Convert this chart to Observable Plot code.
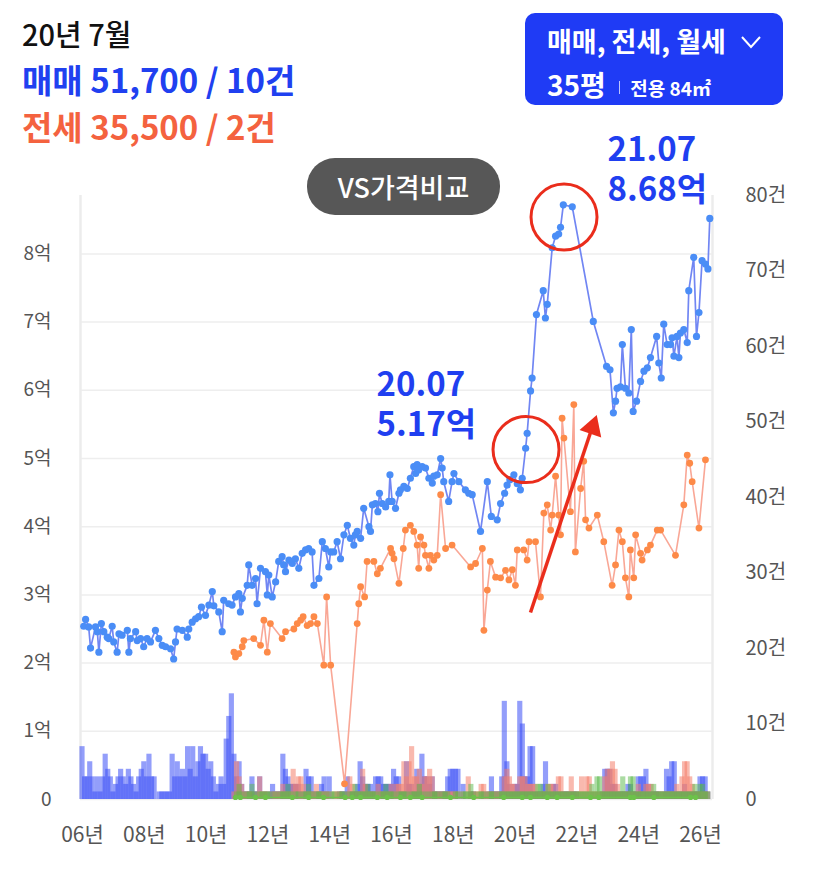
<!DOCTYPE html>
<html><head><meta charset="utf-8">
<script src="https://cdn.jsdelivr.net/npm/d3@7"></script>
<script src="https://cdn.jsdelivr.net/npm/@observablehq/plot@0.6"></script>
<style>
body{margin:0;background:#fff;font-family:"Noto Sans CJK KR","Noto Sans",sans-serif;}
#wrap{position:relative;width:827px;height:871px;overflow:hidden;background:#fff;}
#chart{position:absolute;left:0;top:0;}
.hd{position:absolute;left:22px;white-space:nowrap;line-height:1;}
#t1{top:19px;font-size:29px;font-weight:500;color:#111;}
#t2{top:63px;font-size:33px;font-weight:700;color:#2040f0;}
#t3{top:110px;font-size:33px;font-weight:700;color:#f4623f;}
#btn{position:absolute;left:525px;top:13px;width:258px;height:92px;background:#1f3bf5;border-radius:10px;color:#fff;}
#b1{position:absolute;left:22px;top:14px;font-size:27px;font-weight:700;line-height:1;white-space:nowrap;}
#b2{position:absolute;left:22px;top:57px;font-size:28px;font-weight:700;line-height:1;white-space:nowrap;}
#b2 .sep{display:inline-block;width:1.5px;height:13px;background:rgba(255,255,255,0.7);margin:0 10px 0 13px;vertical-align:2px;}
#b2 .sm{font-size:19px;}
#chev{position:absolute;left:215px;top:22px;}
#vs{position:absolute;left:307px;top:158px;width:193px;height:57px;background:#575757;border-radius:28px;color:#fff;font-size:27px;font-weight:500;line-height:57px;text-align:center;}
</style></head><body>
<div id="wrap">
  <div id="chart"></div>
  <div class="hd" id="t1">20년 7월</div>
  <div class="hd" id="t2">매매 51,700 / 10건</div>
  <div class="hd" id="t3">전세 35,500 / 2건</div>
  <div id="btn">
    <div id="b1">매매, 전세, 월세</div>
    <svg id="chev" width="22" height="14" viewBox="0 0 22 14"><polyline points="2,2 11,12 20,2" fill="none" stroke="#fff" stroke-width="2"/></svg>
    <div id="b2">35평<span class="sep"></span><span class="sm">전용 84㎡</span></div>
  </div>
  <div id="vs">VS가격비교</div>
</div>
<script>
// ---- data ----
const saleT = [2006.04,2006.10,2006.20,2006.26,2006.42,2006.48,2006.53,2006.61,2006.69,2006.80,2006.85,2006.96,2007.01,2007.12,2007.18,2007.28,2007.45,2007.50,2007.55,2007.72,2007.77,2007.88,2007.98,2008.09,2008.20,2008.36,2008.47,2008.58,2008.69,2008.85,2008.95,2009.01,2009.06,2009.23,2009.39,2009.44,2009.55,2009.66,2009.76,2009.85,2009.98,2010.09,2010.20,2010.25,2010.41,2010.52,2010.57,2010.73,2010.84,2010.95,2011.06,2011.11,2011.17,2011.33,2011.38,2011.49,2011.60,2011.65,2011.76,2011.92,2011.98,2012.03,2012.14,2012.25,2012.35,2012.46,2012.51,2012.57,2012.68,2012.79,2012.89,2013.00,2013.11,2013.22,2013.32,2013.43,2013.49,2013.65,2013.76,2013.86,2013.97,2014.03,2014.13,2014.24,2014.35,2014.46,2014.57,2014.67,2014.78,2014.83,2014.89,2015.00,2015.10,2015.27,2015.32,2015.38,2015.48,2015.56,2015.61,2015.70,2015.81,2015.91,2015.95,2016.02,2016.13,2016.24,2016.29,2016.40,2016.51,2016.61,2016.72,2016.78,2016.83,2016.88,2016.99,2017.10,2017.21,2017.32,2017.37,2017.48,2017.59,2017.64,2017.69,2017.85,2017.96,2018.02,2018.18,2018.39,2018.50,2018.61,2018.88,2019.10,2019.23,2019.42,2019.53,2019.66,2019.74,2019.83,2019.96,2020.07,2020.17,2020.23,2020.34,2020.39,2020.50,2020.55,2020.69,2020.91,2020.98,2021.04,2021.20,2021.31,2021.41,2021.47,2021.56,2021.85,2022.53,2022.96,2023.07,2023.18,2023.25,2023.30,2023.41,2023.47,2023.57,2023.68,2023.76,2023.82,2023.93,2024.06,2024.17,2024.28,2024.38,2024.58,2024.65,2024.73,2024.81,2024.92,2025.03,2025.08,2025.14,2025.24,2025.30,2025.35,2025.46,2025.57,2025.62,2025.78,2025.87,2025.95,2026.05,2026.16,2026.24,2026.30];
const saleV = [2.54,2.64,2.53,2.22,2.53,2.46,2.16,2.58,2.46,2.38,2.36,2.54,2.31,2.16,2.43,2.41,2.48,2.16,2.36,2.46,2.33,2.36,2.24,2.36,2.31,2.48,2.36,2.26,2.24,2.21,2.06,2.31,2.50,2.48,2.38,2.50,2.60,2.65,2.68,2.82,2.70,2.85,3.05,2.84,2.75,2.46,2.92,2.87,2.85,2.97,3.02,2.75,2.95,3.14,3.44,3.14,3.24,2.87,3.39,3.34,3.00,3.29,2.97,3.19,3.49,3.56,3.44,3.34,3.51,3.46,3.53,3.39,3.61,3.66,3.68,3.63,3.14,3.24,3.78,3.68,3.41,3.63,3.63,3.78,3.53,3.88,4.02,3.83,3.73,3.88,3.93,3.83,4.27,4.00,3.93,4.32,4.34,4.22,4.49,4.34,4.29,4.37,4.76,4.37,4.27,4.49,4.54,4.59,4.56,4.71,4.88,4.78,4.91,4.83,4.88,4.86,4.71,4.64,4.74,4.76,5.00,4.86,4.66,4.37,4.66,4.78,4.66,4.54,4.49,4.47,3.93,4.66,4.15,4.10,4.34,4.49,4.61,4.69,4.76,4.63,4.54,4.71,5.15,5.37,5.99,6.18,7.11,7.46,7.06,7.26,8.09,8.26,8.29,8.39,8.72,8.69,7.01,6.35,6.30,5.67,5.84,6.03,6.05,6.67,6.03,5.96,6.89,5.69,5.84,6.13,6.28,6.33,6.48,6.79,6.40,6.18,6.97,6.67,6.67,6.77,6.50,6.79,6.48,6.84,6.89,6.70,7.46,7.95,6.79,7.14,7.90,7.85,7.78,8.52];

const jeonseT = [2010.90,2010.95,2011.06,2011.17,2011.22,2011.54,2011.76,2011.87,2011.98,2012.08,2012.46,2012.57,2012.84,2012.95,2013.06,2013.14,2013.27,2013.38,2013.49,2013.60,2013.81,2013.90,2014.03,2014.48,2014.89,2014.94,2015.00,2015.13,2015.21,2015.43,2015.54,2015.64,2015.97,2016.02,2016.08,2016.24,2016.38,2016.45,2016.61,2016.72,2016.83,2016.88,2016.94,2017.05,2017.10,2017.21,2017.26,2017.37,2017.48,2017.59,2017.75,2017.96,2018.56,2018.72,2018.94,2018.99,2019.10,2019.20,2019.37,2019.53,2019.69,2019.80,2019.91,2020.01,2020.07,2020.28,2020.39,2020.45,2020.66,2020.82,2020.93,2021.04,2021.15,2021.20,2021.31,2021.41,2021.47,2021.52,2021.58,2021.79,2021.90,2021.95,2022.12,2022.22,2022.28,2022.39,2022.66,2022.87,2023.14,2023.25,2023.36,2023.47,2023.57,2023.68,2023.73,2023.84,2023.90,2024.06,2024.11,2024.28,2024.38,2024.60,2024.71,2025.19,2025.46,2025.57,2025.65,2025.73,2025.95,2026.16];
const jeonseV = [2.16,2.09,2.14,2.24,2.33,2.36,2.26,2.63,2.16,2.58,2.36,2.46,2.50,2.58,2.63,2.68,2.55,2.58,2.68,2.58,1.97,2.97,1.97,0.23,2.58,2.87,3.12,2.97,3.49,3.49,3.31,3.39,3.68,3.61,3.53,3.17,3.68,3.95,4.02,3.93,3.73,3.39,3.85,3.73,3.58,3.39,3.58,3.51,3.58,4.47,3.68,3.73,3.41,3.46,3.68,2.48,3.07,3.49,3.26,3.25,3.36,3.22,3.37,3.14,3.66,3.66,3.51,3.78,3.78,2.97,4.20,4.32,3.95,4.17,4.74,4.17,3.88,5.59,5.30,4.22,5.79,3.63,4.56,4.96,4.10,3.98,4.17,3.78,3.14,3.44,3.95,3.78,3.25,2.97,3.66,3.25,3.88,3.61,3.51,3.66,3.73,3.95,3.95,3.58,4.32,5.05,4.93,4.66,3.98,4.98];

// monthly rent (월세) line near zero
const wolseT = [2010.95,2011.11,2011.60,2011.92,2012.79,2013.32,2013.80,2014.50,2014.73,2015.00,2015.54,2015.86,2016.29,2016.61,2016.99,2017.91,2018.66,2019.63,2020.23,2020.50,2021.04,2021.36,2021.85,2022.44,2022.71,2023.73,2023.84,2024.49,2025.68,2025.84];
const wolseV = [0.03,0.03,0.03,0.03,0.03,0.03,0.03,0.03,0.03,0.03,0.03,0.03,0.03,0.03,0.03,0.03,0.03,0.03,0.03,0.03,0.03,0.03,0.03,0.03,0.03,0.03,0.03,0.03,0.03,0.03];

// monthly transaction counts
const saleStart = 2006;        // first month: 2006-01
const saleCnt = [
 7,3,3,5,3,1,3,1,3,6,4,3,
 1,2,3,4,3,2,4,3,2,1,3,4,
 5,3,6,3,3,0,1,1,1,1,1,6,
 3,5,3,4,3,7,4,7,3,5,7,6,
 6,4,5,3,1,2,3,2,8,11,14,6,
 3,5,2,1,1,1,3,1,1,3,0,1,
 0,1,2,1,1,1,6,4,3,2,2,2,
 2,1,1,4,3,3,1,1,1,2,3,1,
 3,0,0,0,1,1,1,3,1,1,1,2,
 5,3,2,2,2,1,3,3,3,2,2,2,
 2,4,3,3,1,1,5,2,2,1,4,2,
 6,3,3,2,3,1,1,1,1,1,3,4,
 4,4,4,0,2,0,0,1,1,0,0,0,
 1,0,1,3,1,1,1,3,13,5,2,1,
 2,2,13,10,3,3,7,7,1,1,1,2,
 5,1,1,2,2,1,1,1,1,1,1,1,
 1,0,0,0,0,0,0,0,0,0,1,4,
 4,4,2,2,1,1,1,1,2,2,1,1,
 3,3,3,4,2,1,1,1,1,0,1,4,
 3,5,5,1,1,1,2,1,1,1,1,1,
 3,3,3,1,0];
const jeonseStart = 2006 + 58/12;  // 2010-11
const jeonseCnt = [
 0,1,
 5,3,2,1,1,1,1,0,1,3,1,1,
 1,0,1,1,1,1,2,1,1,1,4,2,
 3,3,2,1,1,1,1,2,1,1,1,1,
 1,0,1,1,1,1,0,1,3,2,1,1,
 1,4,2,1,1,1,1,2,1,1,1,1,
 2,1,2,2,2,5,3,5,7,3,3,4,
 2,3,3,4,3,1,1,1,1,1,1,1,
 1,1,1,0,1,0,3,1,1,1,1,2,
 2,1,1,1,1,1,1,1,3,4,3,2,
 2,1,3,3,3,2,2,2,2,1,1,1,
 1,2,2,2,1,3,3,1,1,1,3,1,
 1,1,3,1,3,3,1,1,1,1,1,3,
 4,4,5,4,2,1,1,1,1,1,1,1,
 2,1,1,2,2,2,1,1,1,1,1,1,
 1,1,1,2,1,3,5,5,3,2,1,1,
 1,1,1,1,0];
const wolseStart = 2011;   // 2011-01
const wolseCnt = [
 1,2,1,0,1,1,2,1,0,1,1,1,
 1,1,0,1,0,1,1,1,2,1,0,1,
 1,0,1,1,2,1,0,1,1,1,0,1,
 0,1,1,0,1,1,1,0,1,1,2,1,
 1,1,1,2,1,1,1,0,1,1,2,1,
 1,1,0,1,1,1,1,0,1,1,1,2,
 1,0,1,0,1,1,1,0,1,1,1,0,
 0,1,1,0,1,1,1,2,1,0,1,1,
 1,0,1,1,1,0,1,1,1,1,1,1,
 1,1,1,1,1,1,1,1,1,2,2,1,
 1,2,1,1,1,1,1,1,1,1,1,1,
 1,1,1,1,1,1,2,1,3,3,1,1,
 1,1,1,1,1,1,3,1,1,3,3,1,
 1,1,1,1,1,1,2,1,1,1,1,1,
 1,1,1,1,1,1,1,1,1,1,2,1,
 2,2,1,1,0];

const yearTicks = [2006,2008,2010,2012,2014,2016,2018,2020,2022,2024,2026];
const priceTicks = [0,1,2,3,4,5,6,7,8];
const countTicks = [0,10,20,30,40,50,60,70,80];

// annotations
const circles = [{t:2021.583, v:8.54}, {t:2020.353, v:5.13}];
const arrowLine = [{t1:2020.498, v1:2.742, t2:2022.44, v2:5.38}];
const arrowHead = [{t:2022.505, v:5.455}];
const labels = [
  {t:2022.99, v:9.255, s:"21.07\n8.68억"},
  {t:2015.515, v:5.814, s:"20.07\n5.17억"}
];

// ---- build ----
const sale = saleT.map((t,i)=>({t, v:saleV[i]}));
const jeonse = jeonseT.map((t,i)=>({t, v:jeonseV[i]}));
const wolse = wolseT.map((t,i)=>({t, v:wolseV[i]}));
const months = (start, arr) => arr.map((c,i)=>({t:start + i/12, c}));
const saleBars = months(saleStart, saleCnt);
const jeonseBars = months(jeonseStart, jeonseCnt);
const wolseBars = months(wolseStart, wolseCnt);

const yMax = 8.856;           // top of the price axis
const k = yMax / 80;          // 80건 at top
const half = 1/12;
const x0 = 2005.935, x1 = 2026.388;

const chart = Plot.plot({
  width: 827, height: 871,
  marginLeft: 80, marginRight: 115, marginTop: 195, marginBottom: 72,
  x: {type: "linear", domain: [x0, x1], axis: null},
  y: {domain: [0, yMax], axis: null},
  style: {fontFamily: '"Noto Sans CJK KR","Noto Sans",sans-serif', fontSize: "17px", background: "transparent", overflow: "visible"},
  marks: [
    Plot.ruleY(priceTicks, {stroke: "#eeeeee", strokeWidth: 1.5}),
    Plot.ruleX([x0, x1], {stroke: "#ececec", strokeWidth: 2.5}),
    Plot.rect(saleBars, {x1: d=>d.t-half, x2: d=>d.t+half, y1: 0, y2: d=>d.c*k, fill: "#3b4ef5", fillOpacity: 0.55}),
    Plot.rect(jeonseBars, {x1: d=>d.t-half, x2: d=>d.t+half, y1: 0, y2: d=>d.c*k, fill: "#f4806b", fillOpacity: 0.55}),
    Plot.rect(wolseBars, {x1: d=>d.t-half, x2: d=>d.t+half, y1: 0, y2: d=>d.c*k, fill: "#58b848", fillOpacity: 0.5}),
    Plot.line(wolse, {x: "t", y: "v", stroke: "#6cc24a", strokeWidth: 1.2}),
    Plot.dot(wolse, {x: "t", y: "v", r: 2.6, fill: "#6cc24a"}),
    Plot.line(jeonse, {x: "t", y: "v", stroke: "#f9a796", strokeWidth: 1.6}),
    Plot.dot(jeonse, {x: "t", y: "v", r: 3.4, fill: "#fd8a48"}),
    Plot.line(sale, {x: "t", y: "v", stroke: "#7186f3", strokeWidth: 1.7}),
    Plot.dot(sale, {x: "t", y: "v", r: 3.6, fill: "#4a8df6"}),
    Plot.axisY({anchor: "left", ticks: priceTicks, tickSize: 0, tickPadding: 29, fontSize: 19, fill: "#555", tickFormat: d => d === 0 ? "0" : d + "억"}),
    Plot.axisY({anchor: "right", ticks: countTicks.map(c=>c*k), tickSize: 0, tickPadding: 33, fontSize: 20, fill: "#555", tickFormat: v => { const c = Math.round(v/k); return c === 0 ? "0" : c + "건"; }}),
    Plot.axisX({anchor: "bottom", ticks: yearTicks, tickSize: 0, tickPadding: 28, fontSize: 21, fill: "#555", tickFormat: d => String(d % 100).padStart(2, "0") + "년"}),
    Plot.dot(circles, {x: "t", y: "v", r: 33, stroke: "#ea2d1c", strokeWidth: 3, fill: "none"}),
    Plot.link(arrowLine, {x1: "t1", y1: "v1", x2: "t2", y2: "v2", stroke: "#ea2d1c", strokeWidth: 3.5}),
    Plot.dot(arrowHead, {x: "t", y: "v", symbol: "triangle", r: 8.5, fill: "#ea2d1c", rotate: 18.7}),
    Plot.text(labels, {x: "t", y: "v", text: "s", textAnchor: "start", lineAnchor: "middle", lineHeight: 1.22, fontSize: 33, fontWeight: "bold", fill: "#1f3ff0"})
  ]
});
document.getElementById("chart").appendChild(chart);
</script>
</body></html>
